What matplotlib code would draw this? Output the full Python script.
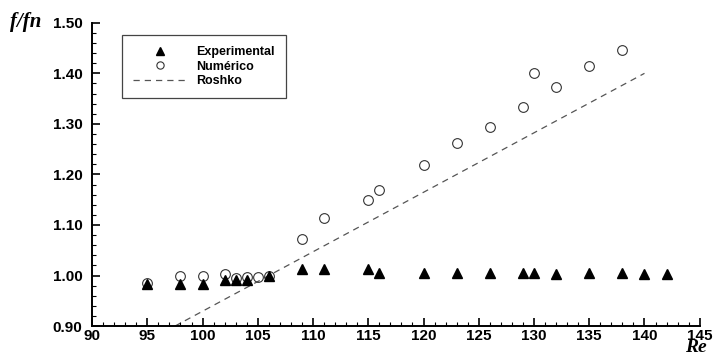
import matplotlib
matplotlib.use('Agg')
import matplotlib.pyplot as plt
from matplotlib.ticker import MultipleLocator

# dados
re_exp = [95, 98, 100, 102, 103, 104, 106, 109, 111, 115, 116, 120, 123, 126, 129, 130, 132, 135, 138, 140, 142]
f_exp = [0.984, 0.984, 0.984, 0.991, 0.991, 0.991, 0.999, 1.013, 1.013, 1.013, 1.005, 1.005, 1.005, 1.005,
         1.005, 1.005, 1.003, 1.005, 1.005, 1.003, 1.003]

re_num = [95, 98, 100, 102, 103, 104, 105, 106, 109, 111, 115, 116, 120, 123, 126, 129, 130, 132, 135, 138]
f_num = [0.986, 1.0, 1.0, 1.003, 0.995, 0.998, 0.998, 0.999, 1.072, 1.114, 1.150, 1.169, 1.219, 1.262,
         1.294, 1.334, 1.400, 1.372, 1.414, 1.447]

re_roshko = [97.5, 140]
f_roshko = [0.90, 1.40]

xticks = [90, 95, 100, 105, 110, 115, 120, 125, 130, 135, 140, 145]
yticks = [0.90, 1.00, 1.10, 1.20, 1.30, 1.40, 1.50]

plt.rcParams['font.family'] = ['Liberation Sans', 'DejaVu Sans']

fig = plt.figure(figsize=(7.14, 3.56), dpi=100)
ax = fig.add_axes([0.129, 0.084, 0.851, 0.852])

ax.plot(re_exp, f_exp, linestyle='none', marker='^', ms=7.5, color='black', label='Experimental', zorder=3)
ax.plot(re_num, f_num, linestyle='none', marker='o', ms=7, mfc='none', mec='#333333', mew=0.8,
        label='Numérico', zorder=2)
ax.plot(re_roshko, f_roshko, linestyle=(0, (5, 4)), color='#555555', lw=0.9, label='Roshko', zorder=1)

ax.set_xlim(90, 145)
ax.set_ylim(0.90, 1.50)
ax.set_xticks(xticks)
ax.set_yticks(yticks)
ax.set_xticklabels([str(t) for t in xticks], fontweight='bold', fontsize=11)
ax.set_yticklabels(['%.2f' % t for t in yticks], fontweight='bold', fontsize=11)
ax.xaxis.set_minor_locator(MultipleLocator(1))
ax.yaxis.set_minor_locator(MultipleLocator(0.02))
ax.tick_params(which='major', direction='in', length=6, width=1.2, pad=2)
ax.tick_params(which='minor', direction='in', length=3, width=0.8)
ax.tick_params(axis='y', pad=7)
for s in ['top', 'right']:
    ax.spines[s].set_visible(False)
for s in ['left', 'bottom']:
    ax.spines[s].set_linewidth(1.4)

fig.text(0.014, 0.937, 'f/fn', fontsize=15, fontweight='bold', style='italic', family='Liberation Serif',
         va='center', ha='left')
fig.text(0.99, 0.0, 'Re', fontsize=14, fontweight='bold', style='italic', family='Liberation Serif',
         va='bottom', ha='right')

leg = ax.legend(loc='upper left', bbox_to_anchor=(0.171, 0.902), bbox_transform=fig.transFigure,
                prop={'weight': 'bold', 'size': 9}, numpoints=1, markerscale=0.75, handlelength=4.2,
                handletextpad=0.8, labelspacing=0.2, borderpad=0.9, fancybox=False, framealpha=1,
                borderaxespad=0)
leg.get_frame().set_edgecolor('#444444')
leg.get_frame().set_linewidth(0.9)

fig.savefig('out.png', dpi=100)
